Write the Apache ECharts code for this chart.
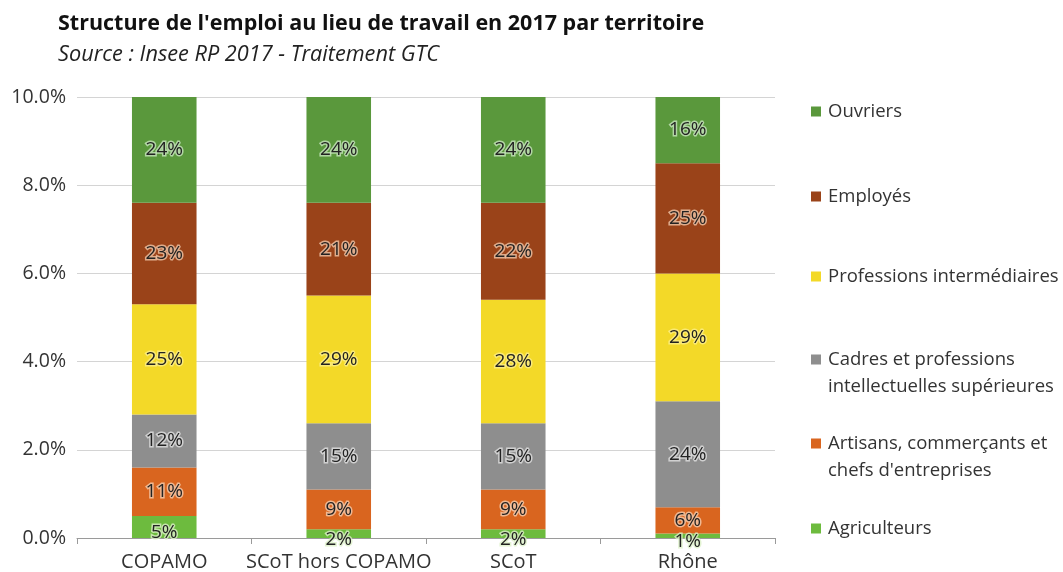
<!DOCTYPE html>
<html>
<head>
<meta charset="utf-8">
<script src="https://cdn.jsdelivr.net/npm/echarts@6/dist/echarts.min.js"></script>
<style>
  html, body { margin: 0; padding: 0; background: #fff; }
  #chart { width: 1063px; height: 572px; }
</style>
</head>
<body>
<div id="chart"></div>
<script>
var territoires = ['COPAMO', 'SCoT hors COPAMO', 'SCoT', 'Rhône'];
var yTickLabels = ['0.0%', '2.0%', '4.0%', '6.0%', '8.0%', '10.0%'];

// parts en %, du bas vers le haut de la pile
var agriculteurs = [5, 2, 2, 1];
var artisans = [11, 9, 9, 6];
var cadres = [12, 15, 15, 24];
var professions = [25, 29, 28, 29];
var employes = [23, 21, 22, 25];
var ouvriers = [24, 24, 24, 16];

var chart = echarts.init(document.getElementById('chart'));
var font = '"Open Sans", Lato, sans-serif';

var seriesList = [
    {name: 'Agriculteurs', data: agriculteurs, color: '#6DBB3E', halo: 'rgba(220,240,200,0.8)', offset: [0, 6]},
    {name: 'Artisans, commerçants et chefs d\'entreprises', data: artisans, color: '#D9651F', halo: 'rgba(245,205,175,0.8)'},
    {name: 'Cadres et professions intellectuelles supérieures', data: cadres, color: '#8E8E8E', halo: 'rgba(225,225,225,0.8)'},
    {name: 'Professions intermédiaires', data: professions, color: '#F3D928', halo: 'rgba(255,245,170,0.6)'},
    {name: 'Employés', data: employes, color: '#9A4319', halo: 'rgba(235,190,160,0.85)'},
    {name: 'Ouvriers', data: ouvriers, color: '#5A983C', halo: 'rgba(200,230,190,0.8)'}
];

var legendText = {
    'Artisans, commerçants et chefs d\'entreprises': 'Artisans, commerçants et\nchefs d\'entreprises',
    'Cadres et professions intellectuelles supérieures': 'Cadres et professions\nintellectuelles supérieures'
};

// carré en haut de l'icône pour l'aligner sur la première ligne (comme Excel)
var topSquare = 'path://M0,0h10v10h-10z M0,36.9h0.1v0.1h-0.1z';

// une légende par entrée pour reproduire l'espacement d'Excel
var legendTops = [510, 425, 341, 258, 178, 93];
var legends = seriesList.map(function (s, i) {
    var twoLines = !!legendText[s.name];
    return {
        data: [s.name],
        orient: 'vertical',
        left: 806,
        top: legendTops[i],
        itemWidth: 10,
        itemHeight: twoLines ? 37 : 10,
        icon: twoLines ? topSquare : 'rect',
        align: 'left',
        selectedMode: false,
        formatter: function (name) { return legendText[name] || name; },
        textStyle: {fontFamily: font, fontSize: 18.5, color: '#333', lineHeight: 27, padding: [0, 0, 0, 2]}
    };
});

var option = {
    animation: false,
    title: {
        text: 'Structure de l\'emploi au lieu de travail en 2017 par territoire',
        subtext: 'Source : Insee RP 2017 - Traitement GTC',
        left: 53,
        top: 8,
        itemGap: 9,
        textStyle: {fontFamily: font, fontSize: 21.5, fontWeight: 'bold', color: '#111'},
        subtextStyle: {fontFamily: font, fontSize: 21.7, fontStyle: 'italic', color: '#222'}
    },
    legend: legends,
    grid: {left: 77, right: 288, top: 97, bottom: 34},
    xAxis: {
        type: 'category',
        data: territoires,
        axisLine: {lineStyle: {color: '#9a9a9a', width: 1}},
        axisTick: {show: true, length: 6, lineStyle: {color: '#9a9a9a'}},
        axisLabel: {interval: 0, fontFamily: font, fontSize: 20, color: '#333', margin: 14}
    },
    yAxis: {
        type: 'value',
        min: 0,
        max: 100,
        interval: 20,
        axisLine: {show: false},
        axisTick: {show: false},
        splitLine: {lineStyle: {color: '#d4d4d4', width: 1}},
        axisLabel: {
            fontFamily: font, fontSize: 19.5, color: '#333', margin: 11,
            formatter: function (v) { return yTickLabels[Math.round(v / 20)]; }
        }
    },
    series: seriesList.map(function (s) {
        return {
            name: s.name,
            type: 'bar',
            stack: 'total',
            barWidth: '37%',
            data: s.data,
            itemStyle: {color: s.color},
            label: {
                show: true,
                position: 'inside',
                offset: s.offset || [0, 0],
                formatter: '{c}%',
                fontFamily: font,
                fontSize: 19,
                color: '#222',
                textBorderColor: s.halo,
                textBorderWidth: 3
            }
        };
    })
};
chart.setOption(option);
</script>
</body>
</html>
